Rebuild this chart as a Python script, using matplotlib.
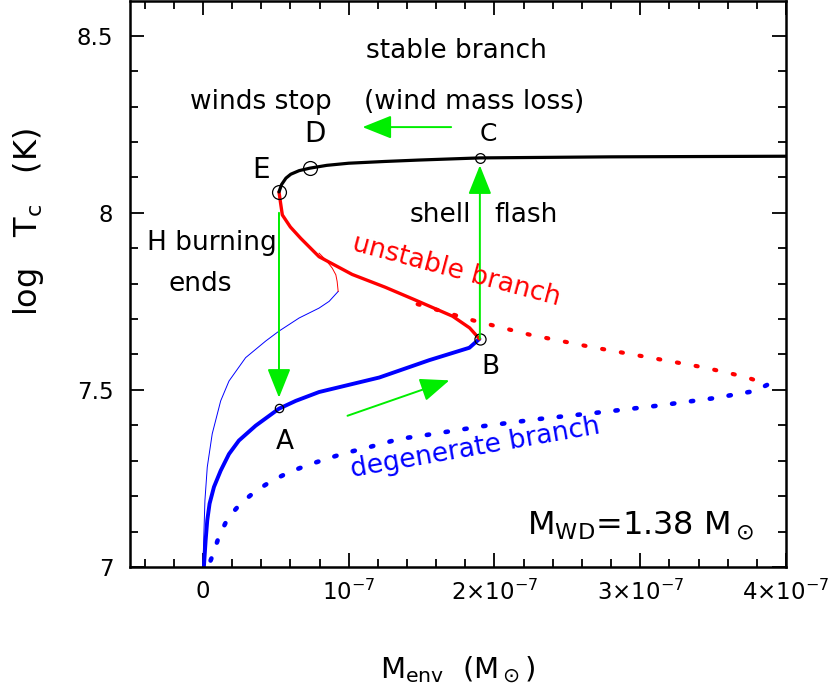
import matplotlib
matplotlib.use("Agg")
import matplotlib.pyplot as plt
from matplotlib.ticker import MultipleLocator, FixedLocator, FixedFormatter

plt.rcParams['font.family'] = ['DejaVu Sans']
plt.rcParams['mathtext.fontset'] = 'dejavusans'

UNIT = 1e-7  # envelope mass values below are in units of 1e-7 Msun

# stable branch (black, E -> D -> C -> right)
stable_x = [0.522, 0.540, 0.570, 0.603, 0.660, 0.733, 0.85, 1.00, 1.25, 1.485, 1.90, 2.8, 4.2]
stable_y = [8.059, 8.080, 8.098, 8.109, 8.119, 8.126, 8.134, 8.140, 8.145, 8.149, 8.155, 8.158, 8.160]

# unstable branch (red thick, E -> B)
unstable_x = [0.522, 0.532, 0.545, 0.600, 0.671, 0.797, 1.024, 1.250, 1.450, 1.713, 1.830, 1.897]
unstable_y = [8.059, 8.030, 7.994, 7.960, 7.928, 7.876, 7.826, 7.790, 7.755, 7.708, 7.675, 7.644]

# lower branch (blue thick, B -> A -> origin)
lower_x = [1.897, 1.828, 1.553, 1.210, 0.797, 0.637, 0.522, 0.362, 0.247, 0.179, 0.122, 0.076,
           0.046, 0.030, 0.019, 0.007]
lower_y = [7.644, 7.619, 7.584, 7.535, 7.494, 7.469, 7.447, 7.399, 7.357, 7.319, 7.272, 7.226,
           7.179, 7.132, 7.076, 7.001]

# thin track (blue part, then red part)
thin_blue_x = [0.000, 0.007, 0.014, 0.030, 0.064, 0.122, 0.179, 0.293, 0.431, 0.522, 0.660, 0.797, 0.866, 0.928]
thin_blue_y = [7.000, 7.096, 7.188, 7.282, 7.376, 7.469, 7.525, 7.591, 7.638, 7.666, 7.703, 7.731, 7.750, 7.778]
thin_red_x = [0.928, 0.921, 0.912, 0.887, 0.843, 0.797]
thin_red_y = [7.778, 7.806, 7.825, 7.844, 7.867, 7.886]

# dotted unstable (red) and degenerate (blue) branches
dot_red_x = [1.473, 1.856, 2.241, 2.653, 3.043, 3.443, 3.718, 3.844, 3.870]
dot_red_y = [7.742, 7.696, 7.656, 7.622, 7.593, 7.563, 7.537, 7.520, 7.514]
dot_blue_x = [3.870, 3.787, 3.512, 3.111, 2.710, 2.309, 1.909, 1.507, 1.352, 1.110, 0.977,
              0.847, 0.720, 0.594, 0.475, 0.361, 0.258, 0.170, 0.109, 0.068, 0.035]
dot_blue_y = [7.514, 7.497, 7.477, 7.455, 7.436, 7.418, 7.397, 7.371, 7.362, 7.335, 7.322,
              7.305, 7.288, 7.268, 7.244, 7.214, 7.179, 7.137, 7.085, 7.034, 7.000]

# marked points
pt_names = ['E', 'D', 'C', 'B', 'A']
pt_x = [0.522, 0.733, 1.90, 1.90, 0.522]
pt_y = [8.059, 8.126, 8.155, 7.645, 7.450]
pt_size = [10, 10, 7, 8, 6]

# green arrows (start, end)
arrow_start = [(0.522, 8.000), (1.90, 7.645), (1.703, 8.242), (0.992, 7.427)]
arrow_end = [(0.522, 7.478), (1.90, 8.134), (1.095, 8.242), (1.691, 7.527)]

xtick_vals = [0, 1, 2, 3, 4]
xtick_labels = ['0', r'$10^{-7}$', r'$2{\times}10^{-7}$', r'$3{\times}10^{-7}$', r'$4{\times}10^{-7}$']
ytick_vals = [7, 7.5, 8, 8.5]
ytick_labels = ['7', '7.5', '8', '8.5']


def sx(v):
    return [a * UNIT for a in v]


fig = plt.figure(figsize=(8.30, 6.95), dpi=100)
ax = fig.add_axes([130 / 830, 128 / 695, 656 / 830, 566 / 695])

ax.plot(sx(thin_blue_x), thin_blue_y, color='blue', lw=0.7)
ax.plot(sx(thin_red_x), thin_red_y, color='red', lw=0.7)
ax.plot(sx(dot_red_x), dot_red_y, color='red', lw=3.0, linestyle=(0, (0.5, 4.06)),
        dash_capstyle='round')
ax.plot(sx(dot_blue_x), dot_blue_y, color='blue', lw=3.3, linestyle=(0, (0.5, 3.65)),
        dash_capstyle='round')
ax.plot(sx(lower_x), lower_y, color='blue', lw=2.8, solid_capstyle='round', solid_joinstyle='round')
ax.plot(sx(unstable_x), unstable_y, color='red', lw=2.4, solid_capstyle='round', solid_joinstyle='round')
ax.plot(sx(stable_x), stable_y, color='black', lw=2.3, solid_capstyle='round', solid_joinstyle='round')

for n, x, y, s in zip(pt_names, pt_x, pt_y, pt_size):
    ax.plot([x * UNIT], [y], 'o', mfc='none', mec='black', ms=s, mew=0.9)

for (x0, y0), (x1, y1) in zip(arrow_start, arrow_end):
    ax.annotate('', xy=(x1 * UNIT, y1), xytext=(x0 * UNIT, y0),
                arrowprops=dict(arrowstyle='-|>,head_length=1.2,head_width=0.48',
                                color='#00ee00', lw=1.4, mutation_scale=15,
                                shrinkA=0, shrinkB=0))

fs = 19
ax.text(1.739 * UNIT, 8.458, 'stable branch', fontsize=fs, ha='center', va='center')
ax.text(0.40 * UNIT, 8.312, 'winds stop', fontsize=fs, ha='center', va='center')
ax.text(1.86 * UNIT, 8.312, '(wind mass loss)', fontsize=fs, ha='center', va='center')
ax.text(0.77 * UNIT, 8.222, 'D', fontsize=20, ha='center', va='center')
ax.text(1.96 * UNIT, 8.222, 'C', fontsize=18, ha='center', va='center')
ax.text(0.40 * UNIT, 8.120, 'E', fontsize=20, ha='center', va='center')
ax.text(1.63 * UNIT, 7.994, 'shell', fontsize=fs, ha='center', va='center')
ax.text(2.22 * UNIT, 7.994, 'flash', fontsize=fs, ha='center', va='center')
ax.text(0.06 * UNIT, 7.916, 'H burning', fontsize=fs, ha='center', va='center')
ax.text(-0.02 * UNIT, 7.798, 'ends', fontsize=fs, ha='center', va='center')
ax.text(1.74 * UNIT, 7.835, 'unstable branch', fontsize=fs, ha='center', va='center',
        color='red', rotation=-15, rotation_mode='anchor')
ax.text(1.97 * UNIT, 7.565, 'B', fontsize=19, ha='center', va='center')
ax.text(0.56 * UNIT, 7.354, 'A', fontsize=19, ha='center', va='center')
ax.text(1.87 * UNIT, 7.334, 'degenerate branch', fontsize=fs, ha='center', va='center',
        color='blue', rotation=10, rotation_mode='anchor')
ax.text(3.0 * UNIT, 7.118, r'$\mathregular{M_{WD}}$=1.38 $\mathregular{M_\odot}$',
        fontsize=23, ha='center', va='center')

ax.set_xlim(-0.5 * UNIT, 4.0 * UNIT)
ax.set_ylim(7.0, 8.598)

ax.xaxis.set_major_locator(FixedLocator([v * UNIT for v in xtick_vals]))
ax.xaxis.set_major_formatter(FixedFormatter(xtick_labels))
ax.xaxis.set_minor_locator(MultipleLocator(0.2 * UNIT))
ax.yaxis.set_major_locator(FixedLocator(ytick_vals))
ax.yaxis.set_major_formatter(FixedFormatter(ytick_labels))
ax.yaxis.set_minor_locator(MultipleLocator(0.1))

ax.tick_params(which='both', direction='in', top=True, right=True, width=1.3)
ax.tick_params(which='major', length=10, labelsize=16.5)
ax.tick_params(which='minor', length=6)
ax.tick_params(axis='x', which='major', pad=9)
ax.tick_params(axis='y', which='major', pad=12)
for sp in ax.spines.values():
    sp.set_linewidth(1.8)

fig.text(458 / 830, 1 - 670 / 695, r'$\mathregular{M_{env}}$  ($\mathregular{M_\odot}$)',
         fontsize=21, ha='center', va='center')
fig.text(28 / 830, 1 - 222 / 695, r'log   $\mathregular{T_c}$   (K)',
         fontsize=23, ha='center', va='center', rotation=90)

fig.savefig('out.png', dpi=100)
